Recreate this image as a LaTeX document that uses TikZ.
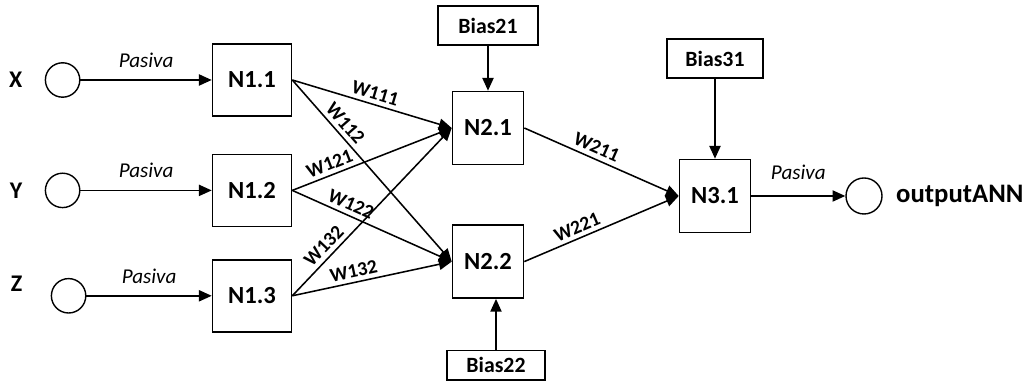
\documentclass[tikz,border=0pt]{standalone}
\usepackage{fontspec}
\setmainfont{Carlito}
\usetikzlibrary{arrows.meta, positioning, calc}
\tikzset{
  neuron/.style={
    rectangle, draw, line width=1pt, inner sep=0pt,
    minimum width=1.78cm, minimum height=1.83cm,
    font=\fontsize{17.5}{20}\selectfont\bfseries
  },
  firstneuron/.style={neuron, minimum width=1.98cm, minimum height=1.8cm},
  biasblock/.style={
    rectangle, draw, line width=1pt, inner sep=0pt,
    minimum width=2.5cm, minimum height=0.97cm,
    font=\fontsize{15.5}{18}\selectfont\bfseries
  },
  port/.style={circle, draw, line width=1pt, minimum size=0.86cm, inner sep=0pt},
  varlabel/.style={inner sep=0pt, font=\fontsize{17}{20}\selectfont\bfseries},
  passlabel/.style={inner sep=0pt, above=0.29cm, font=\fontsize{15}{18}\selectfont\itshape},
  wlabel/.style={sloped, above, inner sep=3pt, font=\fontsize{14}{16}\selectfont\bfseries},
  flowline/.style={draw=black, line width=1.1pt, -{Triangle[length=0.32cm, width=0.28cm]}}
}
\begin{document}
\begin{tikzpicture}
  \useasboundingbox (0,0) rectangle (25.675,9.625);

  % Layer 1
  \node[firstneuron] (n11) at (6.3,7.625) {N1.1};
  \node[firstneuron, below=0.925cm of n11] (n12) {N1.2};
  \node[firstneuron, below=0.8cm of n12] (n13) {N1.3};

  % Layer 2 and output neuron
  \node[neuron] (n21) at (12.2,6.425) {N2.1};
  \node[neuron, below=1.475cm of n21] (n22) {N2.2};
  \node[neuron] (n31) at (17.875,4.725) {N3.1};

  % Biases
  \node[biasblock, above=1.125cm of n21] (bias21) {Bias21};
  \node[biasblock, minimum width=2.45cm, minimum height=0.73cm, below=1.275cm of n22, xshift=0.2cm] (bias22) {Bias22};
  \node[biasblock, minimum width=2.4cm, above=2cm of n31] (bias31) {Bias31};

  % Inputs and output
  \node[port, left=3.28cm of n11] (inx) {};
  \node[port, left=3.28cm of n12] (iny) {};
  \node[port, left=3.13cm of n13] (inz) {};
  \node[port, minimum size=0.9cm, right=2.35cm of n31] (outann) {};

  \node[varlabel, left=0.55cm of inx] (labx) {X};
  \node[varlabel, left=0.55cm of iny] (laby) {Y};
  \node[varlabel, left=0.7cm of inz, yshift=0.3cm] (labz) {Z};
  \node[varlabel, font=\fontsize{19}{22}\selectfont\bfseries, right=0.33cm of outann] (labout) {outputANN};

  % Connectors
  \draw[flowline] (inx) -- node[passlabel] {Pasiva} (n11);
  \draw[flowline] (iny) -- node[passlabel] {Pasiva} (n12);
  \draw[flowline] (inz) -- node[passlabel] {Pasiva} (n13);

  \draw[flowline] (n11.east) -- node[wlabel, pos=0.5] {W111} (n21.west);
  \draw[flowline] (n11.east) -- node[wlabel, pos=0.28] {W112} (n22.west);
  \draw[flowline] (n12.east) -- node[wlabel, pos=0.26] {W121} (n21.west);
  \draw[flowline] (n12.east) -- node[wlabel, pos=0.34] {W122} (n22.west);
  \draw[flowline] (n13.east) -- node[wlabel, pos=0.25] {W132} (n21.west);
  \draw[flowline] (n13.east) -- node[wlabel, pos=0.4] {W132} (n22.west);

  \draw[flowline] (n21.east) -- node[wlabel, pos=0.44] {W211} (n31.west);
  \draw[flowline] (n22.east) -- node[wlabel, pos=0.37] {W221} (n31.west);

  \draw[flowline] (bias21) -- (n21);
  \draw[flowline] (bias22.north) -- (bias22.north |- n22.south);
  \draw[flowline] (bias31) -- (n31);

  \draw[flowline] (n31) -- node[passlabel, above=0.4cm] {Pasiva} (outann);

\end{tikzpicture}
\end{document}
